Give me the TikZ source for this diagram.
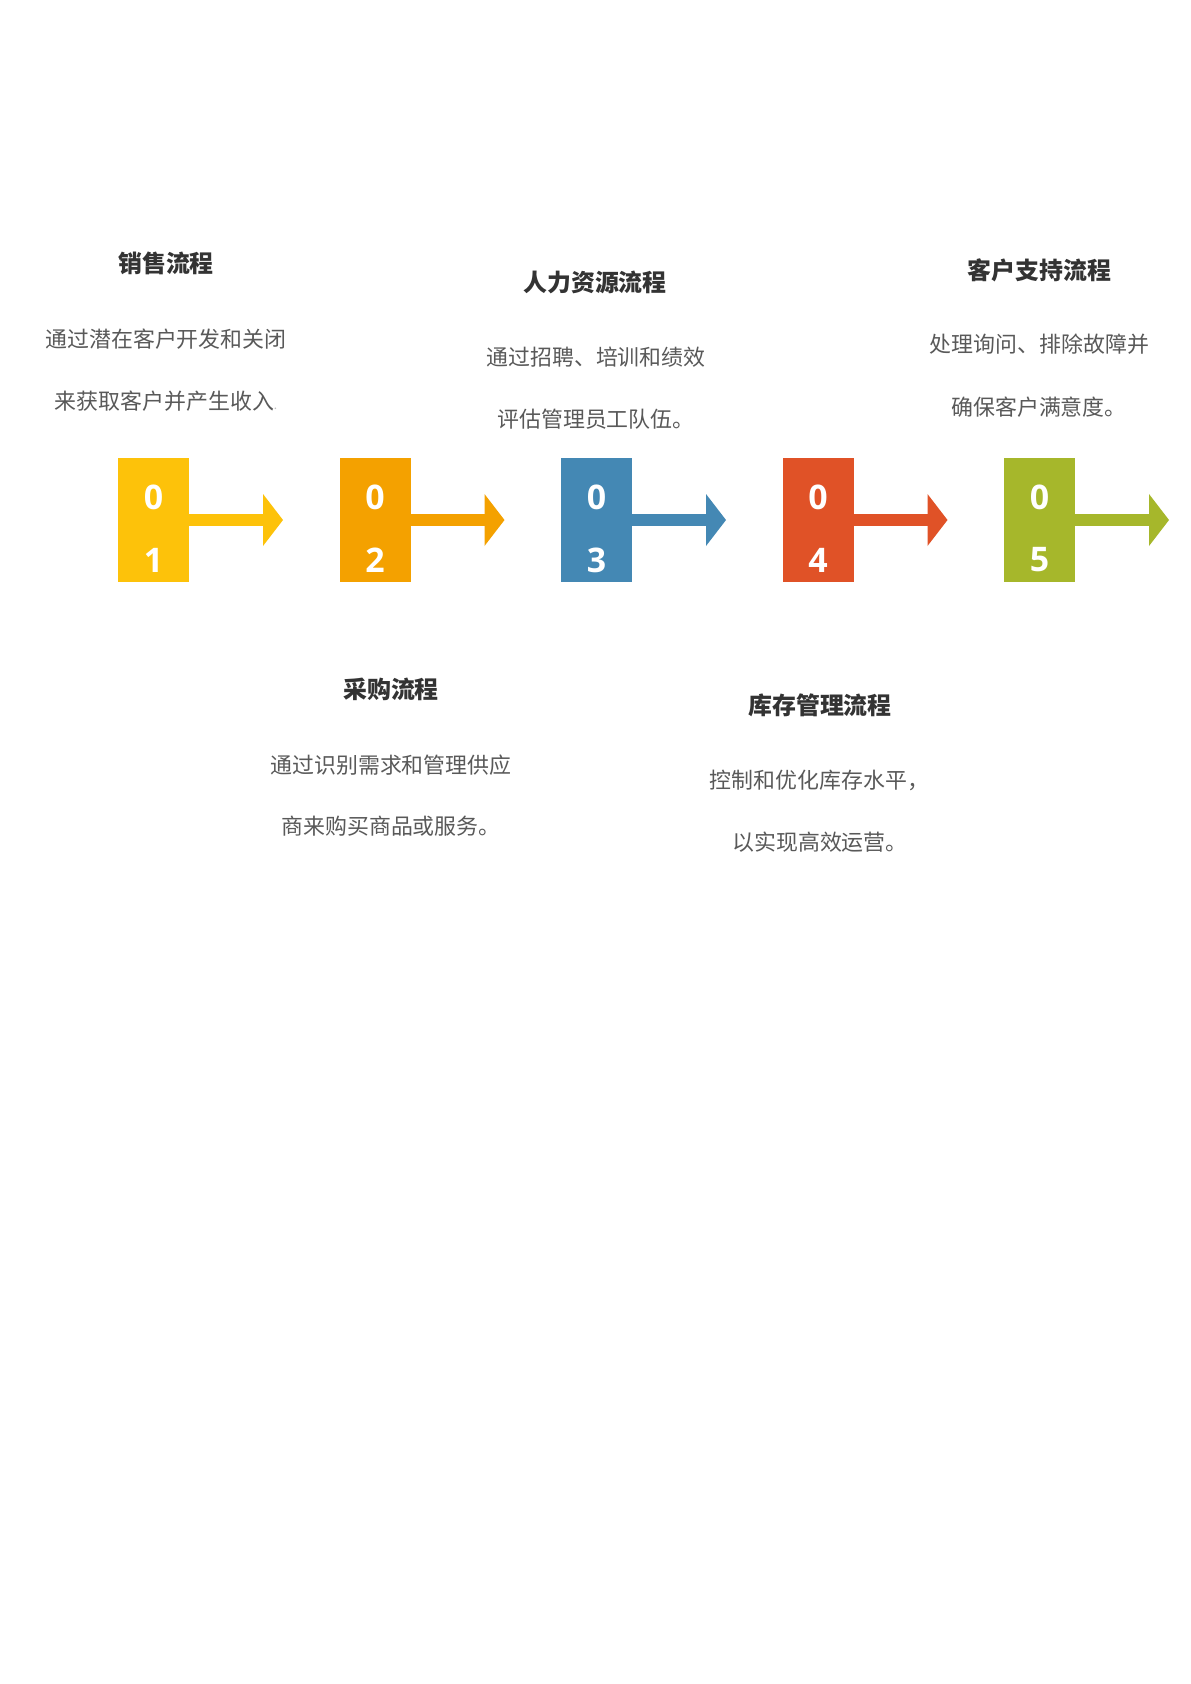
\documentclass[tikz,border=0pt]{standalone}
\usepackage{fontspec}
\newfontfamily\cjk{Noto Sans CJK SC}
\newfontfamily\numfont{Open Sans}
\usetikzlibrary{arrows.meta}
\definecolor{cA}{HTML}{FDC20A}
\definecolor{cB}{HTML}{F4A100}
\definecolor{cC}{HTML}{4488B4}
\definecolor{cD}{HTML}{E05227}
\definecolor{cE}{HTML}{A6B72B}
\definecolor{titlegray}{HTML}{333333}
\definecolor{descgray}{HTML}{595959}
\begin{document}
\begin{tikzpicture}[x=0.5bp,y=-0.5bp,
  numbox/.style={fill=#1, draw=none, minimum width=35.5bp, minimum height=62bp, inner sep=0pt},
  digit/.style={text=white, font=\numfont\bfseries\fontsize{17}{17}\selectfont, inner sep=0pt},
  ttl/.style={text=titlegray, font=\cjk\bfseries\fontsize{12}{12}\selectfont, inner sep=0pt},
  desc/.style={text=descgray, font=\cjk\fontsize{11}{11}\selectfont, inner sep=0pt},
  shaft/.style={draw=#1, line width=6bp, -{Triangle[length=10bp,width=26bp,line width=0pt]}}]
\useasboundingbox[fill=white] (0,0) rectangle (1191,1684);

% boxes
\node[numbox=cA] (b1) at (153.5,520) {};
\node[numbox=cB] (b2) at (375,520) {};
\node[numbox=cC] (b3) at (596.5,520) {};
\node[numbox=cD] (b4) at (818,520) {};
\node[numbox=cE] (b5) at (1039.5,520) {};

% digits
\node[digit] (d1a) at (153.5,497) {0};
\node[digit] (d1b) at (153.5,560) {1};
\node[digit] (d2a) at (375,497) {0};
\node[digit] (d2b) at (375,560) {2};
\node[digit] (d3a) at (596.5,497) {0};
\node[digit] (d3b) at (596.5,560) {3};
\node[digit] (d4a) at (818,497) {0};
\node[digit] (d4b) at (818,560) {4};
\node[digit] (d5a) at (1039.5,497) {0};
\node[digit] (d5b) at (1039.5,560) {5};

% arrow tips
\coordinate (t1) at (283,520);
\coordinate (t2) at (504.5,520);
\coordinate (t3) at (726,520);
\coordinate (t4) at (947.5,520);
\coordinate (t5) at (1169,520);
\draw[shaft=cA] (b1.east) -- (t1);
\draw[shaft=cB] (b2.east) -- (t2);
\draw[shaft=cC] (b3.east) -- (t3);
\draw[shaft=cD] (b4.east) -- (t4);
\draw[shaft=cE] (b5.east) -- (t5);

% step 1
\node[ttl] (h1) at (166,263) {销售流程};
\node[desc] (p1a) at (166,339) {通过潜在客户开发和关闭};
\node[desc] (p1b) at (166,401) {来获取客户并产生收入{\color{descgray!40}\fontsize{6}{6}\selectfont .}};
% step 2
\node[ttl] (h2) at (595,282) {人力资源流程};
\node[desc] (p2a) at (596,357) {通过招聘、培训和绩效};
\node[desc] (p2b) at (596,419) {评估管理员工队伍。};
% step 3
\node[ttl] (h3) at (391,689) {采购流程};
\node[desc] (p3a) at (391,765) {通过识别需求和管理供应};
\node[desc] (p3b) at (391,826) {商来购买商品或服务。};
% step 4
\node[ttl] (h4) at (820,705) {库存管理流程};
\node[desc] (p4a) at (819.5,780) {控制和优化库存水平，};
\node[desc] (p4b) at (820,842) {以实现高效运营。};
% step 5
\node[ttl] (h5) at (1039.5,270) {客户支持流程};
\node[desc] (p5a) at (1039.5,344) {处理询问、排除故障并};
\node[desc] (p5b) at (1039,407) {确保客户满意度。};
\end{tikzpicture}
\end{document}
